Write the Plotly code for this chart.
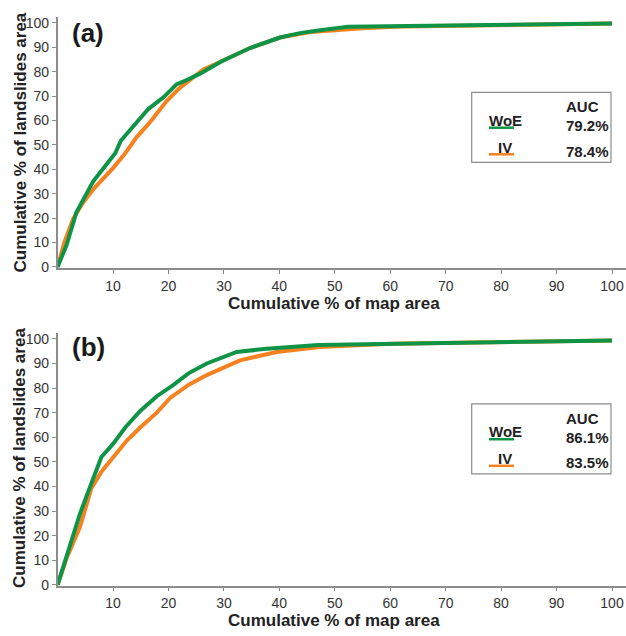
import plotly.graph_objects as go

# ---------------- data ----------------
x_woe_a = [0, 1.6, 3.4, 4.9, 6.4, 8.3, 10.4, 11.4, 12.5, 14.3, 16.4, 19.1, 21.5, 23.3, 25.7, 29.6, 34.7, 40.1, 43.7, 47.0, 52.4, 100]
y_woe_a = [0, 8.9, 22.4, 29.0, 35.0, 40.5, 46.6, 51.7, 54.7, 59.4, 64.8, 69.5, 74.9, 76.6, 79.2, 84.3, 89.7, 94.0, 95.8, 96.9, 98.4, 99.8]
x_iv_a = [0, 1.2, 2.8, 4.6, 6.7, 10.0, 12.2, 14.3, 16.7, 19.7, 22.1, 24.5, 26.3, 29.6, 34.7, 40.1, 45.6, 50.0, 55.0, 62.0, 100]
y_iv_a = [0, 10.0, 19.7, 26.4, 32.5, 40.5, 46.6, 53.3, 59.4, 68.1, 73.5, 77.8, 80.9, 84.3, 89.7, 94.0, 96.3, 97.0, 97.8, 98.5, 99.8]

x_woe_b = [0, 2.2, 4.0, 6.1, 7.9, 10.0, 12.2, 14.9, 17.9, 20.9, 23.6, 26.9, 32.3, 37.7, 43.7, 47.0, 100]
y_woe_b = [0, 16.0, 28.7, 41.3, 52.0, 57.3, 64.0, 70.7, 76.7, 81.3, 86.0, 90.0, 94.7, 96.0, 97.0, 97.5, 99.4]
x_iv_b = [0, 1.7, 4.0, 6.1, 7.9, 10.0, 12.5, 14.9, 17.9, 20.3, 23.6, 26.9, 30.5, 32.9, 39.5, 47.3, 60.0, 100]
y_iv_b = [0, 11.3, 23.3, 39.3, 46.0, 52.0, 58.7, 64.0, 70.0, 76.0, 81.3, 85.3, 88.7, 91.3, 94.7, 96.7, 98.0, 99.4]

x_ticks = [10, 20, 30, 40, 50, 60, 70, 80, 90, 100]
y_ticks = [0, 10, 20, 30, 40, 50, 60, 70, 80, 90, 100]

panel_labels = ["(a)", "(b)"]
methods = ["WoE", "IV"]
auc_a = ["79.2%", "78.4%"]
auc_b = ["86.1%", "83.5%"]
x_title = "Cumulative % of map area"
y_title = "Cumulative % of landslides area"

GREEN = "#0f9447"
ORANGE = "#f5821f"
AXC = "#8c8c8c"
FONT = "Liberation Sans, Arial, sans-serif"

W, H = 626, 636
def px(x):
    return x / W
def py(y):
    return 1 - y / H

fig = go.Figure()
fig.add_trace(go.Scatter(x=x_iv_a, y=y_iv_a, mode="lines", line=dict(color=ORANGE, width=4), xaxis="x", yaxis="y", showlegend=False))
fig.add_trace(go.Scatter(x=x_woe_a, y=y_woe_a, mode="lines", line=dict(color=GREEN, width=4), xaxis="x", yaxis="y", showlegend=False))
fig.add_trace(go.Scatter(x=x_iv_b, y=y_iv_b, mode="lines", line=dict(color=ORANGE, width=4), xaxis="x2", yaxis="y2", showlegend=False))
fig.add_trace(go.Scatter(x=x_woe_b, y=y_woe_b, mode="lines", line=dict(color=GREEN, width=4), xaxis="x2", yaxis="y2", showlegend=False))

common_ax = dict(showline=True, linecolor=AXC, linewidth=1.5, ticks="outside", ticklen=4,
                 tickcolor=AXC, tickwidth=1, showgrid=False, zeroline=False,
                 tickfont=dict(family=FONT, size=14, color="#333333"))

xdom = [px(57.6), 1.0]
xrange_ = [0, 100 * (626 - 57.6) / (612 - 57.6)]

fig.update_layout(
    width=W, height=H,
    margin=dict(l=0, r=0, t=0, b=0),
    paper_bgcolor="white", plot_bgcolor="white",
    xaxis=dict(domain=xdom, range=xrange_, tickvals=x_ticks, anchor="y", **common_ax),
    yaxis=dict(domain=[py(270), py(15)], range=[-0.5, 102.5], tickvals=y_ticks, anchor="x", **common_ax),
    xaxis2=dict(domain=xdom, range=xrange_, tickvals=x_ticks, anchor="y2", **common_ax),
    yaxis2=dict(domain=[py(592), py(336)], range=[-0.3, 102.3], tickvals=y_ticks, anchor="x2", **common_ax),
)

ann = []
shapes = []
# axis titles
for yc in [306, 627]:
    ann.append(dict(x=px(334), y=py(yc), xref="paper", yref="paper", text="<b>%s</b>" % x_title, showarrow=False,
                    font=dict(family=FONT, size=17, color="#222222"), xanchor="center", yanchor="middle"))
for yc in [142.5, 462.5]:
    ann.append(dict(x=px(20), y=py(yc), xref="paper", yref="paper", text="<b>%s</b>" % y_title, showarrow=False, textangle=-90,
                    font=dict(family=FONT, size=17, color="#222222"), xanchor="center", yanchor="middle"))
# panel labels
for lab, yc in zip(panel_labels, [31, 350]):
    ann.append(dict(x=px(70), y=py(yc), xref="paper", yref="paper", text="<b>%s</b>" % lab, showarrow=False,
                    font=dict(family=FONT, size=26, color="#1a1a1a"), xanchor="left", yanchor="middle"))

# legend boxes
for off, aucs in zip([0, 316], [auc_a, auc_b]):
    shapes.append(dict(type="rect", xref="paper", yref="paper", x0=px(471.7), x1=px(611), y0=py(91.7 + off), y1=py(162.7 + off),
                       line=dict(color="#8c8c8c", width=1.2), fillcolor="white"))
    lf = dict(family=FONT, size=15, color="#222222")
    ann.append(dict(x=px(582), y=py(106.5 + off), xref="paper", yref="paper", text="<b>AUC</b>", showarrow=False,
                    font=lf, xanchor="center", yanchor="middle"))
    ann.append(dict(x=px(505), y=py(120 + off), xref="paper", yref="paper", text="<b>%s</b>" % methods[0], showarrow=False,
                    font=lf, xanchor="center", yanchor="middle"))
    ann.append(dict(x=px(505), y=py(147.5 + off), xref="paper", yref="paper", text="<b>%s</b>" % methods[1], showarrow=False,
                    font=lf, xanchor="center", yanchor="middle"))
    ann.append(dict(x=px(587), y=py(125.5 + off), xref="paper", yref="paper", text="<b>%s</b>" % aucs[0], showarrow=False,
                    font=lf, xanchor="center", yanchor="middle"))
    ann.append(dict(x=px(587), y=py(151.5 + off), xref="paper", yref="paper", text="<b>%s</b>" % aucs[1], showarrow=False,
                    font=lf, xanchor="center", yanchor="middle"))
    shapes.append(dict(type="line", xref="paper", yref="paper", x0=px(489), x1=px(514), y0=py(127.5 + off), y1=py(127.5 + off),
                       line=dict(color=GREEN, width=2.5)))
    shapes.append(dict(type="line", xref="paper", yref="paper", x0=px(489), x1=px(514), y0=py(154.5 + off), y1=py(154.5 + off),
                       line=dict(color=ORANGE, width=2.5)))

fig.update_layout(annotations=ann, shapes=shapes)
fig.write_html("out.html", config={"displayModeBar": False},
               post_script="document.body.style.margin='0';document.body.style.overflow='hidden';")
